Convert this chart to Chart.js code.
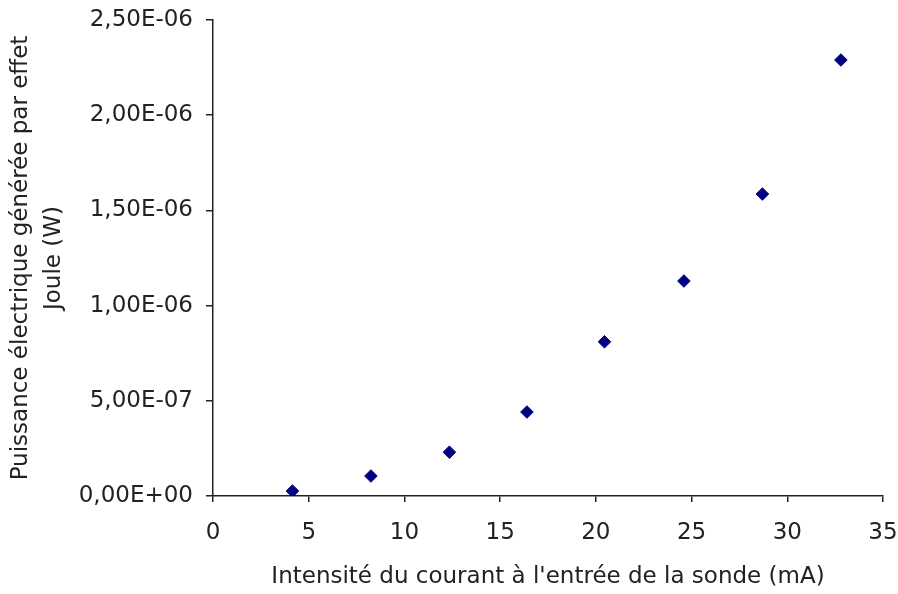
<!DOCTYPE html>
<html>
<head>
<meta charset="utf-8">
<script src="https://cdn.jsdelivr.net/npm/chart.js@4"></script>
<style>
  body { margin: 0; background: #fff; }
  #wrap { width: 898px; height: 594px; }
</style>
</head>
<body>
<div id="wrap"><canvas id="chart" width="898" height="594"></canvas></div>
<script>
// intensité (mA) et puissance (W)
const intensite = [4.15, 8.25, 12.35, 16.4, 20.45, 24.6, 28.7, 32.8];
const puissance = [0.026e-6, 0.105e-6, 0.23e-6, 0.441e-6, 0.81e-6, 1.129e-6, 1.586e-6, 2.29e-6];
const xTicks = [0, 5, 10, 15, 20, 25, 30, 35];
const yTicks = [0, 5e-7, 1e-6, 1.5e-6, 2e-6, 2.5e-6];

const font = "'DejaVu Sans', sans-serif";
const ink = '#222';

function sci(v) {
    if (Math.abs(v) < 1e-12) v = 0;
    let parts = v.toExponential(2).split('e');
    let exp = parseInt(parts[1], 10);
    let sign = exp < 0 ? '-' : '+';
    let e = String(Math.abs(exp)).padStart(2, '0');
    return parts[0].replace('.', ',') + 'E' + sign + e;
}

new Chart(document.getElementById('chart'), {
    type: 'scatter',
    data: {
        datasets: [{
            data: intensite.map((x, i) => ({x: x, y: puissance[i]})),
            pointStyle: 'rectRot',
            pointRadius: 6.3,
            backgroundColor: '#000080',
            borderColor: '#000080',
            borderWidth: 1
        }]
    },
    options: {
        responsive: false,
        animation: false,
        layout: { padding: { left: 0, top: 20, right: 15, bottom: 0 } },
        plugins: { legend: { display: false }, tooltip: { enabled: false } },
        scales: {
            x: {
                type: 'linear',
                min: 0, max: 35,
                afterFit: s => { s.height = 98; s.paddingLeft = 0; s.paddingRight = 0; },
                afterBuildTicks: s => { s.ticks = xTicks.map(v => ({value: v})); },
                border: { display: true, color: ink, width: 1.5 },
                grid: { drawOnChartArea: false, drawTicks: true, tickLength: 6, color: ink, lineWidth: 1.5 },
                ticks: { color: ink, font: { family: font, size: 23 }, padding: 17, maxRotation: 0 },
                title: {
                    display: true,
                    text: "Intensité du courant à l'entrée de la sonde (mA)",
                    color: ink,
                    font: { family: font, size: 23 },
                    padding: { top: 0, bottom: 3 }
                }
            },
            y: {
                type: 'linear',
                min: 0, max: 2.5e-6,
                afterFit: s => { s.width = 213; s.paddingTop = 0; s.paddingBottom = 0; },
                afterBuildTicks: s => { s.ticks = yTicks.map(v => ({value: v})); },
                border: { display: true, color: ink, width: 1.5 },
                grid: { drawOnChartArea: false, drawTicks: true, tickLength: 7, color: ink, lineWidth: 1.5 },
                ticks: { color: ink, font: { family: font, size: 23 }, padding: 13, callback: v => sci(v) },
                title: {
                    display: true,
                    text: ['Puissance électrique générée par effet', 'Joule (W)'],
                    color: ink,
                    font: { family: font, size: 23, lineHeight: 1.45 },
                    padding: { top: 4, bottom: 0 }
                }
            }
        }
    }
});
</script>
</body>
</html>
